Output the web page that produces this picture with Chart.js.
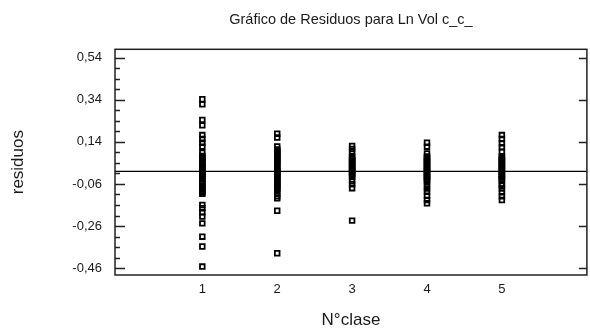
<!DOCTYPE html>
<html lang="es">
<head>
<meta charset="utf-8">
<script src="https://cdn.jsdelivr.net/npm/chart.js@4.4.1/dist/chart.umd.min.js"></script>
<style>
  html, body { margin: 0; padding: 0; background: #fff; overflow: hidden; }
  #wrap { position: absolute; left: 0; top: 0; width: 592px; height: 329px; }
</style>
</head>
<body>
<div id="wrap"><canvas id="residuos"></canvas></div>
<script>
// Clases del factor (eje X)
const clases = [1, 2, 3, 4, 5];
const xTickLabels = ['1', '2', '3', '4', '5'];

// Residuos de Ln Vol c_c_ por clase
const residuosClase1 = [0.342, 0.318, 0.244, 0.218, 0.172, 0.153, 0.136, 0.117, 0.088, 0.073,
  0.066, 0.058, 0.050, 0.041, 0.035, 0.027, 0.019, 0.012, 0.004, -0.003, -0.011, -0.018,
  -0.024, -0.031, -0.038, -0.052, -0.060, -0.068, -0.077, -0.085, -0.093, -0.101, -0.107,
  -0.160, -0.175, -0.194, -0.215, -0.247, -0.310, -0.357, -0.452];
const residuosClase2 = [0.178, 0.160, 0.118, 0.104, 0.097, 0.090, 0.083, 0.076, 0.069, 0.062,
  0.055, 0.048, 0.041, 0.034, 0.022, 0.014, 0.007, 0.000, -0.007, -0.014, -0.021, -0.028,
  -0.035, -0.042, -0.049, -0.056, -0.063, -0.070, -0.077, -0.084, -0.091, -0.105, -0.118,
  -0.128, -0.187, -0.389];
const residuosClase3 = [0.120, 0.106, 0.091, 0.072, 0.064, 0.057, 0.050, 0.043, 0.036, 0.029,
  0.022, 0.015, 0.008, 0.001, -0.006, -0.013, -0.020, -0.027, -0.047, -0.061, -0.080, -0.234];
const residuosClase4 = [0.136, 0.117, 0.085, 0.070, 0.063, 0.056, 0.049, 0.042, 0.035, 0.028,
  0.021, 0.014, 0.007, 0.000, -0.007, -0.014, -0.021, -0.028, -0.035, -0.042, -0.049,
  -0.068, -0.082, -0.097, -0.116, -0.136, -0.152];
const residuosClase5 = [0.172, 0.153, 0.133, 0.114, 0.093, 0.072, 0.065, 0.058, 0.051, 0.044,
  0.037, 0.030, 0.023, 0.016, 0.009, -0.002, -0.009, -0.016, -0.023, -0.030, -0.037, -0.044,
  -0.061, -0.068, -0.082, -0.100, -0.118, -0.136];

// Marcas del eje Y
const yTickValues = [-0.46, -0.26, -0.06, 0.14, 0.34, 0.54];
const yTickLabels = ['-0,46', '-0,26', '-0,06', '0,14', '0,34', '0,54'];

// Línea de referencia (residuo cero)
const lineaReferencia = 0;

const tituloGrafico = 'Gráfico de Residuos para Ln Vol c_c_';

const residuosPorClase = [residuosClase1, residuosClase2, residuosClase3, residuosClase4, residuosClase5];
const puntos = clases.flatMap((c, i) => residuosPorClase[i].map(v => ({ x: c, y: v })));

const TEXTO = '#1a1a1a';
const FUENTE = '"Liberation Sans", Arial, sans-serif';

// Título centrado sobre el área de trazado
const tituloCentrado = {
  id: 'tituloCentrado',
  afterDraw(chart) {
    const { ctx, chartArea: a } = chart;
    ctx.save();
    ctx.fillStyle = TEXTO;
    ctx.font = '14.5px ' + FUENTE;
    ctx.textAlign = 'center';
    ctx.textBaseline = 'middle';
    ctx.fillText(tituloGrafico, (a.left + a.right) / 2, 20);
    ctx.restore();
  }
};

// Marco, marcas interiores del eje Y y línea del cero
const marcoYMarcas = {
  id: 'marcoYMarcas',
  beforeDatasetsDraw(chart) {
    const { ctx, chartArea: a, scales: { y } } = chart;
    const y0 = y.getPixelForValue(lineaReferencia);
    ctx.save();
    ctx.strokeStyle = '#000';
    ctx.lineWidth = 1.2;
    ctx.beginPath();
    ctx.moveTo(a.left, y0);
    ctx.lineTo(a.right, y0);
    ctx.stroke();
    ctx.restore();
  },
  afterDatasetsDraw(chart) {
    const { ctx, chartArea: a, scales: { y } } = chart;
    ctx.save();
    ctx.strokeStyle = '#222';
    ctx.lineWidth = 1.5;
    ctx.strokeRect(a.left, a.top, a.right - a.left, a.bottom - a.top);

    const paso = (yTickValues[1] - yTickValues[0]) / 4;
    const ultimo = (yTickValues.length - 1) * 4;
    ctx.lineWidth = 1.3;
    ctx.beginPath();
    for (let i = -4; i <= ultimo + 4; i++) {
      const v = yTickValues[0] + i * paso;
      if (v < y.min || v > y.max) continue;
      const py = Math.round(y.getPixelForValue(v)) + 0.5;
      const mayor = i % 4 === 0 && i >= 0 && i <= ultimo;
      ctx.moveTo(a.left, py);
      ctx.lineTo(a.left + (mayor ? 10 : 5), py);
      if (mayor) {
        ctx.moveTo(a.right, py);
        ctx.lineTo(a.right - 8, py);
      }
    }
    ctx.stroke();
    ctx.restore();
  }
};

new Chart(document.getElementById('residuos'), {
  type: 'scatter',
  data: {
    datasets: [{
      label: 'residuos',
      data: puntos,
      pointStyle: 'rect',
      pointRadius: 3.3,
      pointHoverRadius: 3.3,
      pointBorderWidth: 1.8,
      borderColor: '#000',
      backgroundColor: 'rgba(0,0,0,0)'
    }]
  },
  options: {
    responsive: true,
    maintainAspectRatio: false,
    animation: false,
    events: [],
    layout: { padding: { top: 49.3, left: 0, right: 0, bottom: 0 } },
    plugins: {
      legend: { display: false },
      tooltip: { enabled: false },
      title: { display: false }
    },
    scales: {
      x: {
        type: 'linear',
        min: -0.166,
        max: 6.135,
        grid: { display: false, drawTicks: false },
        border: { display: false },
        afterBuildTicks(scale) { scale.ticks = clases.map(v => ({ value: v })); },
        afterFit(scale) { scale.height = 54; },
        ticks: {
          padding: 7,
          color: TEXTO,
          font: { family: FUENTE, size: 13 },
          callback: (v) => xTickLabels[clases.indexOf(v)]
        },
        title: {
          display: true,
          text: 'N°clase',
          color: TEXTO,
          font: { family: FUENTE, size: 17, lineHeight: 1 },
          padding: { top: 0, bottom: 0.5 }
        }
      },
      y: {
        type: 'linear',
        min: -0.492,
        max: 0.579,
        grid: { display: false, drawTicks: false },
        border: { display: false },
        afterBuildTicks(scale) { scale.ticks = yTickValues.map(v => ({ value: v })); },
        afterFit(scale) { scale.width = 115; },
        ticks: {
          padding: 13,
          color: TEXTO,
          font: { family: FUENTE, size: 13 },
          callback: (v) => yTickLabels[yTickValues.indexOf(v)]
        },
        title: {
          display: true,
          text: 'residuos',
          color: TEXTO,
          font: { family: FUENTE, size: 17, lineHeight: 1.2 },
          padding: { top: 7.8, bottom: 0 }
        }
      }
    }
  },
  plugins: [marcoYMarcas, tituloCentrado]
});
</script>
</body>
</html>
